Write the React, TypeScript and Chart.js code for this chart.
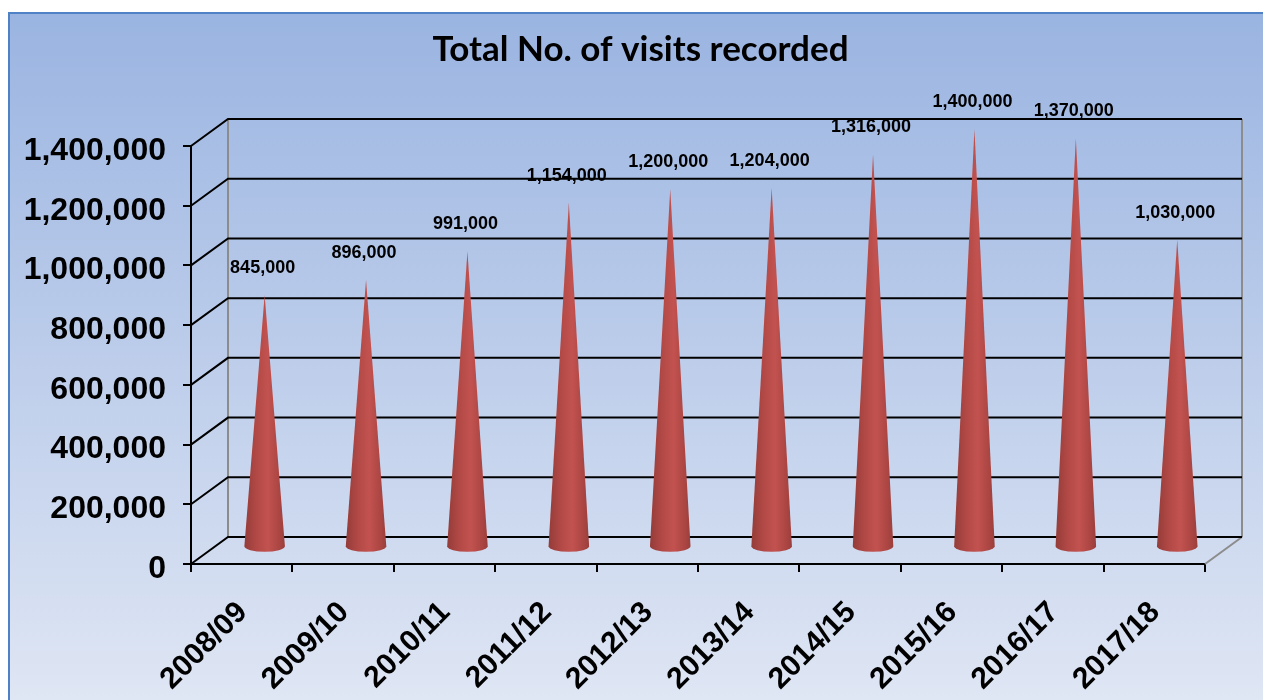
import React, { useEffect, useRef } from "react";
import { Chart, registerables } from "chart.js";

Chart.register(...registerables);

const TITLE = "Total No. of visits recorded";
const CATEGORIES = [
  "2008/09", "2009/10", "2010/11", "2011/12", "2012/13",
  "2013/14", "2014/15", "2015/16", "2016/17", "2017/18",
];
const VISITS = [845000, 896000, 991000, 1154000, 1200000, 1204000, 1316000, 1400000, 1370000, 1030000];
const Y_MIN = 0;
const Y_MAX = 1400000;
const Y_STEP = 200000;

const DEPTH_X = 37;
const DEPTH_Y = -27;
const CONE_DEPTH = 0.62;

const fmt = (v: number) => v.toLocaleString("en-US");

const backgroundPlugin = {
  id: "bg3d",
  beforeDraw(chart: any) {
    const { ctx, width, height } = chart;
    ctx.save();
    const g = ctx.createLinearGradient(0, 0, 0, height);
    g.addColorStop(0, "#9ab4e1");
    g.addColorStop(1, "#dfe6f4");
    ctx.fillStyle = g;
    ctx.fillRect(0, 0, width, height);
    ctx.fillStyle = "#4f81c6";
    ctx.fillRect(0, 0, 2, height);
    ctx.fillRect(0, 0, width, 2);
    ctx.restore();
  },
};

const framePlugin = {
  id: "frame3d",
  beforeDatasetsDraw(chart: any) {
    const { ctx, chartArea } = chart;
    const ys = chart.scales.y;
    const { left, right, top, bottom } = chartArea;
    ctx.save();
    ctx.lineCap = "butt";
    ctx.strokeStyle = "#8c8c8c";
    ctx.lineWidth = 2;
    ctx.beginPath();
    ctx.moveTo(left + DEPTH_X, top + DEPTH_Y);
    ctx.lineTo(left + DEPTH_X, bottom + DEPTH_Y);
    ctx.moveTo(right + DEPTH_X, top + DEPTH_Y);
    ctx.lineTo(right + DEPTH_X, bottom + DEPTH_Y);
    ctx.moveTo(right, bottom);
    ctx.lineTo(right + DEPTH_X, bottom + DEPTH_Y);
    ctx.stroke();
    ctx.strokeStyle = "#000000";
    ctx.lineWidth = 2;
    ctx.beginPath();
    ys.ticks.forEach((t: any) => {
      const yF = ys.getPixelForValue(t.value);
      ctx.moveTo(left, yF);
      ctx.lineTo(left + DEPTH_X, yF + DEPTH_Y);
      ctx.lineTo(right + DEPTH_X, yF + DEPTH_Y);
    });
    ctx.stroke();
    ctx.restore();
  },
};

const conePlugin = {
  id: "cones",
  afterDatasetsDraw(chart: any) {
    const { ctx } = chart;
    const meta = chart.getDatasetMeta(0);
    ctx.save();
    meta.data.forEach((el: any, i: number) => {
      const cx = el.x + CONE_DEPTH * DEPTH_X;
      const baseY = el.base + CONE_DEPTH * DEPTH_Y;
      const apexY = el.y + CONE_DEPTH * DEPTH_Y;
      const hw = el.width / 2;
      const ry = 5.5;
      const g = ctx.createLinearGradient(cx - hw, 0, cx + hw, 0);
      g.addColorStop(0, "#943c39");
      g.addColorStop(0.3, "#b24946");
      g.addColorStop(0.58, "#c2524f");
      g.addColorStop(0.85, "#ac4643");
      g.addColorStop(1, "#9a3f3c");
      ctx.fillStyle = g;
      ctx.beginPath();
      ctx.moveTo(cx - hw, baseY);
      ctx.lineTo(cx, apexY);
      ctx.lineTo(cx + hw, baseY);
      ctx.ellipse(cx, baseY, hw, ry, 0, 0, Math.PI, false);
      ctx.closePath();
      ctx.fill();

      ctx.fillStyle = "#000000";
      ctx.font = "bold 18px 'Liberation Sans', Arial, sans-serif";
      ctx.textAlign = "center";
      ctx.textBaseline = "middle";
      ctx.fillText(fmt(VISITS[i]), cx - 2, apexY - 27);
    });
    ctx.restore();
  },
};

export default function App() {
  const ref = useRef<HTMLCanvasElement | null>(null);
  useEffect(() => {
    if (!ref.current) return;
    const chart = new Chart(ref.current, {
      type: "bar",
      data: {
        labels: CATEGORIES,
        datasets: [
          {
            label: "Visits",
            data: VISITS,
            backgroundColor: "rgba(0,0,0,0)",
            borderWidth: 0,
            categoryPercentage: 1,
            barPercentage: 0.4,
          },
        ],
      },
      options: {
        animation: false,
        responsive: true,
        maintainAspectRatio: false,
        layout: { padding: { left: 10, right: 0, top: 0, bottom: 0 } },
        plugins: {
          legend: { display: false },
          tooltip: { enabled: false },
          title: {
            display: true,
            text: TITLE,
            color: "#000000",
            font: { family: "Lato, 'Open Sans', sans-serif", size: 35, weight: "bold", lineHeight: 1.2 },
            padding: { top: 17, bottom: 75 },
          },
        },
        scales: {
          x: {
            type: "category",
            offset: true,
            afterFit: (s: any) => { s.height = 136; },
            grid: {
              offset: true,
              drawOnChartArea: false,
              drawTicks: true,
              tickLength: 8,
              color: "#000000",
              lineWidth: 2,
            },
            border: { display: true, color: "#000000", width: 2 },
            ticks: {
              autoSkip: false,
              minRotation: 45,
              maxRotation: 45,
              padding: 23,
              labelOffset: 1,
              color: "#000000",
              font: { family: "'Liberation Sans', Arial, sans-serif", size: 30, weight: "bold" },
            },
          },
          y: {
            min: Y_MIN,
            max: Y_MAX,
            afterFit: (s: any) => { s.width = 173; },
            grid: {
              drawOnChartArea: false,
              drawTicks: true,
              tickLength: 8,
              color: "#000000",
              lineWidth: 2,
            },
            border: { display: true, color: "#000000", width: 2 },
            ticks: {
              stepSize: Y_STEP,
              padding: 17,
              labelOffset: 5,
              color: "#000000",
              font: { family: "'Liberation Sans', Arial, sans-serif", size: 32, weight: "bold" },
              callback: (v: any) => fmt(Number(v)),
            },
          },
          yRight: {
            type: "linear",
            position: "right",
            display: true,
            afterFit: (s: any) => { s.width = 58; },
            grid: { display: false },
            border: { display: false },
            ticks: { display: false },
          },
        },
      },
      plugins: [backgroundPlugin, framePlugin, conePlugin],
    });
    return () => chart.destroy();
  }, []);

  return (
    <div style={{ position: "fixed", left: 8, top: 12, width: 1255, height: 688 }}>
      <canvas ref={ref} />
    </div>
  );
}
